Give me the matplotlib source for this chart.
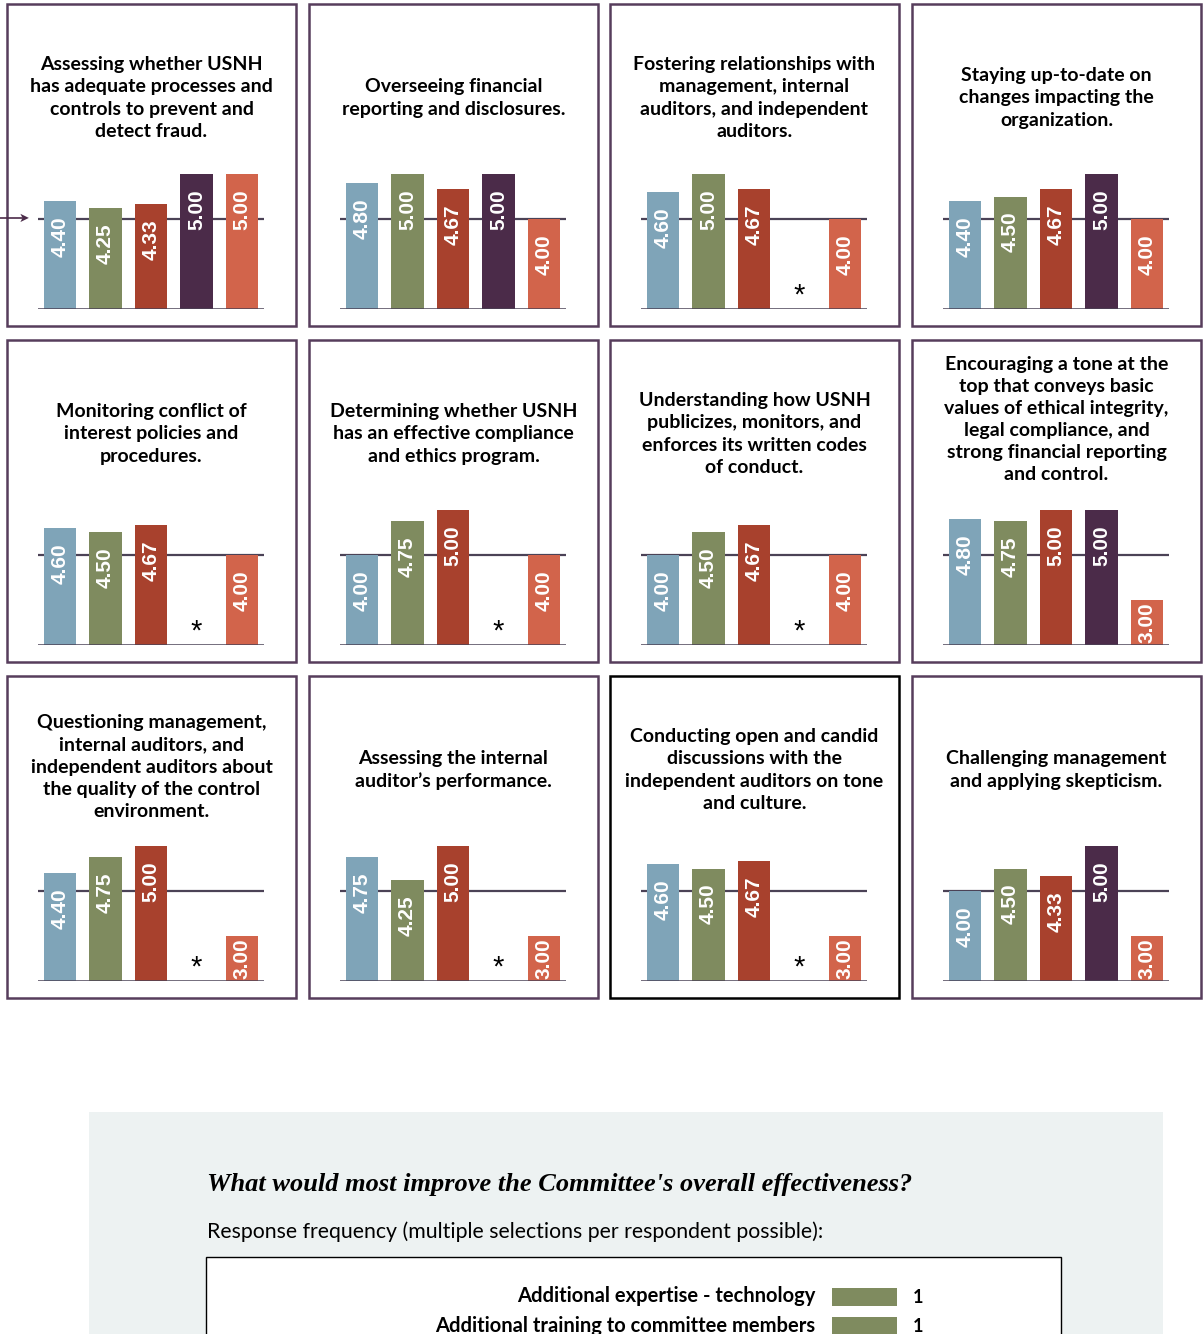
import numpy as np
import matplotlib.pyplot as plt
from matplotlib.patches import Rectangle

nan = np.nan

titles = [
    "Assessing whether USNH\nhas adequate processes and\ncontrols to prevent and\ndetect fraud.",
    "Overseeing financial\nreporting and disclosures.",
    "Fostering relationships with\nmanagement, internal\nauditors, and independent\nauditors.",
    "Staying up-to-date on\nchanges impacting the\norganization.",
    "Monitoring conflict of\ninterest policies and\nprocedures.",
    "Determining whether USNH\nhas an effective compliance\nand ethics program.",
    "Understanding how USNH\npublicizes, monitors, and\nenforces its written codes\nof conduct.",
    "Encouraging a tone at the\ntop that conveys basic\nvalues of ethical integrity,\nlegal compliance, and\nstrong financial reporting\nand control.",
    "Questioning management,\ninternal auditors, and\nindependent auditors about\nthe quality of the control\nenvironment.",
    "Assessing the internal\nauditor\u2019s performance.",
    "Conducting open and candid\ndiscussions with the\nindependent auditors on tone\nand culture.",
    "Challenging management\nand applying skepticism.",
]

# one list per bar colour, one value per panel (nan = no response, shown as *)
series_1 = [4.40, 4.80, 4.60, 4.40, 4.60, 4.00, 4.00, 4.80, 4.40, 4.75, 4.60, 4.00]
series_2 = [4.25, 5.00, 5.00, 4.50, 4.50, 4.75, 4.50, 4.75, 4.75, 4.25, 4.50, 4.50]
series_3 = [4.33, 4.67, 4.67, 4.67, 4.67, 5.00, 4.67, 5.00, 5.00, 5.00, 4.67, 4.33]
series_4 = [5.00, 5.00, nan, 5.00, nan, nan, nan, 5.00, nan, nan, nan, 5.00]
series_5 = [5.00, 4.00, 4.00, 4.00, 4.00, 4.00, 4.00, 3.00, 3.00, 3.00, 3.00, 3.00]

bar_colors = ["#7fa4b8", "#7f8b5f", "#a8412d", "#4b2b49", "#d2644b"]

improve_labels = ["Additional expertise - technology",
                  "Additional training to committee members"]
improve_counts = [1, 1]

W, H = 1204, 1334
fig = plt.figure(figsize=(W / 100, H / 100), dpi=100)
fig.patch.set_facecolor("white")


def fx(px):
    return px / W


def fy(py):
    return 1 - py / H


def px_rect(x, y, w, h):
    # rectangle given in pixels from the top-left corner
    return [fx(x), fy(y + h), w / W, h / H]


col_x = [7, 309, 610, 912]
row_y = [4, 340, 676]
pw, ph = 289, 322
unit = 45.0  # pixels per score point
line_col = "#4b4256"
title_font = ["Lato", "DejaVu Sans"]
num_font = ["Liberation Sans", "DejaVu Sans"]

series = [series_1, series_2, series_3, series_4, series_5]

for i, title in enumerate(titles):
    r, c = divmod(i, 4)
    x0, y0 = col_x[c], row_y[r]
    edge = "black" if i == 10 else "#573d5c"
    fig.patches.append(Rectangle((fx(x0), fy(y0 + ph)), pw / W, ph / H,
                                 transform=fig.transFigure, fill=False,
                                 edgecolor=edge, linewidth=1.8))

    n = title.count("\n") + 1
    cy = min(94, 137 - (n - 1) * 23 / 2)
    fig.text(fx(x0 + pw / 2), fy(y0 + cy), title, ha="center", va="center",
             fontsize=14, fontweight="bold", family=title_font,
             linespacing=1.36, color="black")

    # axes: bottom line is score 2
    base_y = y0 + 305
    top_val = 5.6
    ax_h = (top_val - 2) * unit
    ax = fig.add_axes(px_rect(x0 + 31, base_y - ax_h, 226, ax_h))
    ax.set_xlim(-0.486, 4.486)
    ax.set_ylim(2, top_val)
    ax.axis("off")
    ax.axhline(4, color=line_col, lw=1.6, zorder=1)
    ax.axhline(2, color=line_col, lw=1.8, zorder=3)

    vals = [s[i] for s in series]
    for k, v in enumerate(vals):
        if np.isnan(v):
            ax.text(k, 1.98, "*", ha="center", va="bottom", fontsize=21,
                    color="black", family=num_font)
            continue
        ax.bar(k, v - 2, bottom=2, width=0.707, color=bar_colors[k], zorder=2)
        if v - 2 > 1.4:
            ax.text(k, v - 0.34, f"{v:.2f}", rotation=90, ha="center",
                    va="top", color="white", fontsize=15, fontweight="bold",
                    family=num_font, zorder=4)
        else:
            ax.text(k, 2.04, f"{v:.2f}", rotation=90, ha="center",
                    va="bottom", color="white", fontsize=15,
                    fontweight="bold", family=num_font, zorder=4)

# arrow pointing at the first panel's reference line
fig.add_artist(plt.Line2D([fx(0), fx(22)], [fy(218), fy(218)],
                          color="#4b2b49", lw=1.2))
fig.text(fx(29), fy(218), "\u27a4", ha="right", va="center", fontsize=9,
         color="#4b2b49", family=["DejaVu Sans"])

# bottom section
fig.patches.append(Rectangle((fx(89), fy(1334)), (1163 - 89) / W,
                             (1334 - 1112) / H, transform=fig.transFigure,
                             facecolor="#edf2f2", edgecolor="none", zorder=0))
fig.text(fx(207), fy(1185),
         "What would most improve the Committee's overall effectiveness?",
         ha="left", va="center", fontsize=19, fontweight="bold",
         style="italic", family=["Liberation Serif", "DejaVu Serif"])
fig.text(fx(207), fy(1232),
         "Response frequency (multiple selections per respondent possible):",
         ha="left", va="center", fontsize=15.3, family=title_font)
fig.patches.append(Rectangle((fx(206), fy(1340)), (1061 - 206) / W,
                             (1340 - 1257) / H, transform=fig.transFigure,
                             facecolor="white", edgecolor="black", lw=1.0,
                             zorder=1))

row_px = 29.0
bax_top = 1282
bax_h = 1334 - bax_top
bax = fig.add_axes(px_rect(832, bax_top, 130, bax_h))
bax.set_xlim(0, 2)
bax.set_ylim(-0.5 + bax_h / row_px, -0.5)
bax.axis("off")
bax.set_zorder(5)
ypos = np.arange(len(improve_labels))
bax.barh(ypos, improve_counts, height=18 / row_px, color="#7f8b5f")
for yv, lab, cnt in zip(ypos, improve_labels, improve_counts):
    bax.text(-0.26, yv, lab, ha="right", va="center", fontsize=14.5,
             fontweight="bold", family=title_font, clip_on=False)
    bax.text(cnt + 0.32, yv + 0.02, str(cnt), ha="center", va="center",
             fontsize=13, fontweight="bold", family=title_font)

fig.savefig("out.png", dpi=100, facecolor="white")
